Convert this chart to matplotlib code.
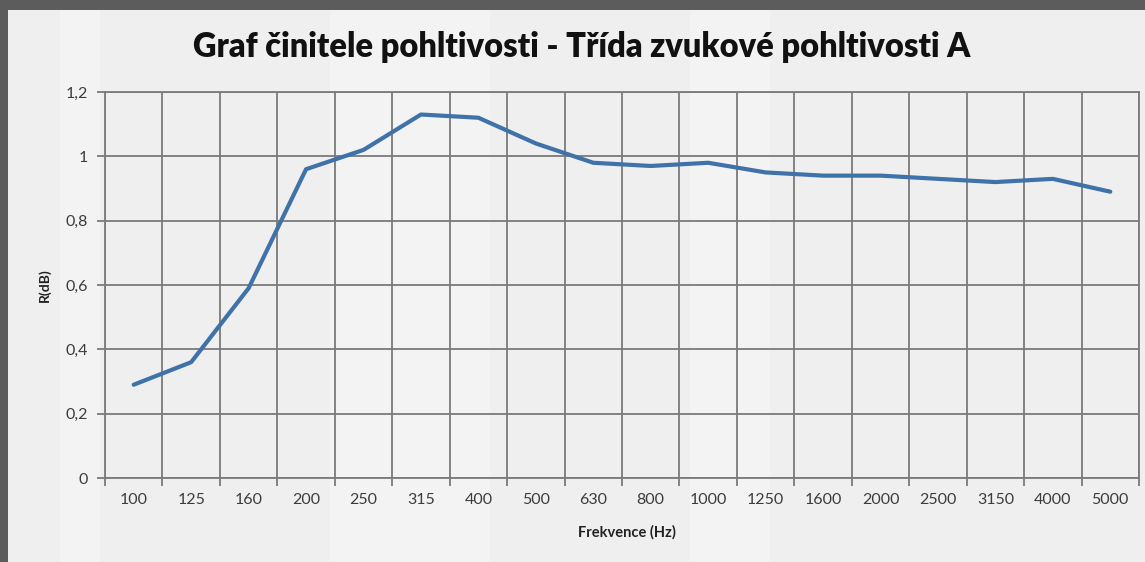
import matplotlib
matplotlib.use("Agg")
import matplotlib.pyplot as plt
from matplotlib.patches import Rectangle
from matplotlib.ticker import FixedLocator

categories = ["100", "125", "160", "200", "250", "315", "400", "500", "630", "800",
              "1000", "1250", "1600", "2000", "2500", "3150", "4000", "5000"]
values = [0.29, 0.36, 0.59, 0.96, 1.02, 1.13, 1.12, 1.04, 0.98, 0.97,
          0.98, 0.95, 0.94, 0.94, 0.93, 0.92, 0.93, 0.89]
y_ticks = [0, 0.2, 0.4, 0.6, 0.8, 1.0, 1.2]
y_labels = ["0", "0,2", "0,4", "0,6", "0,8", "1", "1,2"]

title = "Graf činitele pohltivosti - Třída zvukové pohltivosti A"
font = ["Lato", "DejaVu Sans"]

W, H = 1145, 562
fig = plt.figure(figsize=(W / 100, H / 100), dpi=100)
fig.patch.set_facecolor("#5c5c5c")

# light panel
fig.add_artist(Rectangle((8 / W, 0), (W - 8) / W, (H - 10) / H, transform=fig.transFigure,
                         facecolor="#efefef", edgecolor="none", zorder=-3))
# lighter vertical shading bands
for x0, w in [(60, 40), (330, 160), (690, 80)]:
    fig.add_artist(Rectangle((x0 / W, 0), w / W, (H - 10) / H, transform=fig.transFigure,
                             facecolor="#f3f3f3", edgecolor="none", zorder=-2))

ax = fig.add_axes([105 / W, 1 - 478 / H, (1139 - 105) / W, (478 - 92) / H])
ax.set_facecolor("none")
x = list(range(len(categories)))
ax.plot(x, values, color="#3f72a8", lw=3, solid_capstyle="round", zorder=3)

ax.set_xlim(-0.5, len(categories) - 0.5)
ax.set_ylim(0, 1.2)
ax.set_yticks(y_ticks)
ax.set_yticklabels(y_labels)
ax.set_xticks(x)
ax.set_xticklabels(categories)
ax.xaxis.set_minor_locator(FixedLocator([i + 0.5 for i in range(-1, len(categories))]))

ax.grid(True, which="major", axis="y", color="#7a7a7a", lw=1.3)
ax.grid(True, which="minor", axis="x", color="#7a7a7a", lw=1.3)
ax.grid(False, which="major", axis="x")
ax.tick_params(axis="x", which="major", length=0, pad=11, labelsize=11.5, labelcolor="#3c3c3c")
ax.tick_params(axis="x", which="minor", length=6, width=1.3, color="#7a7a7a")
ax.tick_params(axis="y", which="major", length=6, width=1.3, color="#7a7a7a", pad=6,
               labelsize=11.5, labelcolor="#3c3c3c")
for lab in ax.get_xticklabels() + ax.get_yticklabels():
    lab.set_family(font)
for s in ax.spines.values():
    s.set_color("#7a7a7a")
    s.set_linewidth(1.3)

fig.text(582 / W, 1 - 47 / H, title, ha="center", va="center", fontsize=23.5,
         fontweight="heavy", family=font, color="#111111")
fig.text(45 / W, 1 - 285 / H, "R(dB)", ha="center", va="center", rotation=90,
         fontsize=10, fontweight="bold", family=font, color="#222222")
fig.text(627 / W, 1 - 532 / H, "Frekvence (Hz)", ha="center", va="center",
         fontsize=10.5, fontweight="bold", family=font, color="#222222")

fig.savefig("out.png", dpi=100, facecolor=fig.get_facecolor())
